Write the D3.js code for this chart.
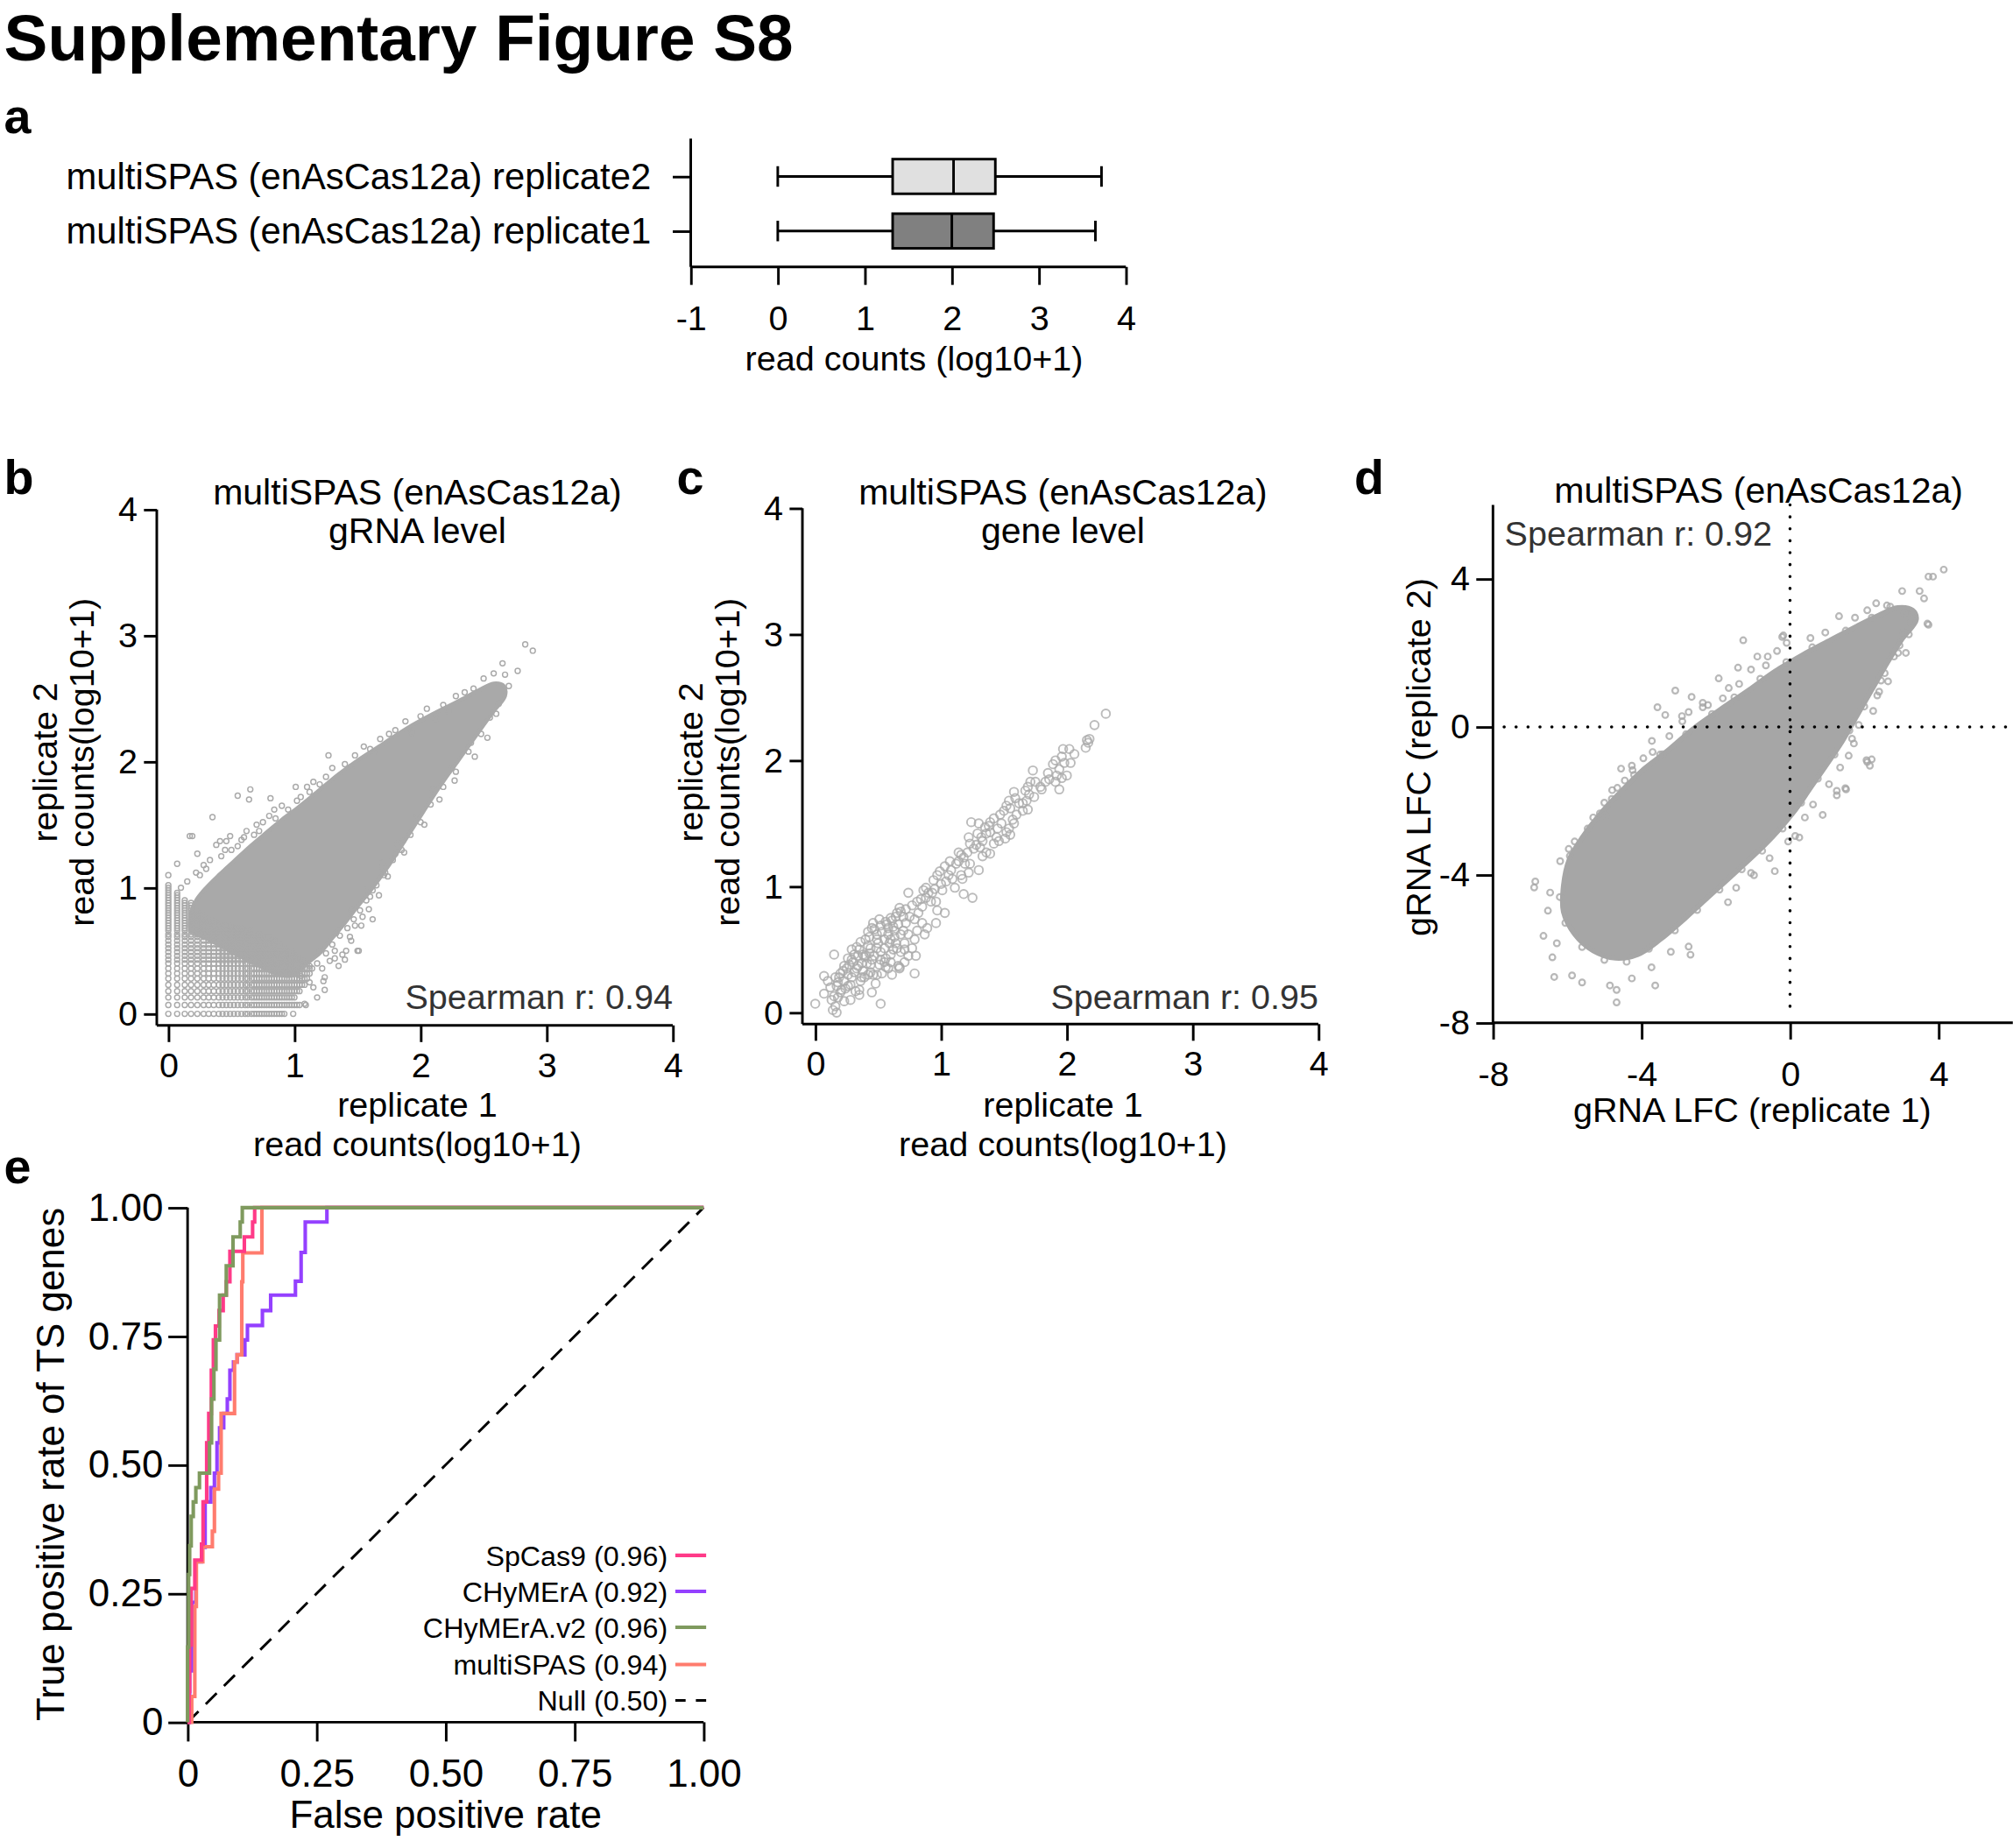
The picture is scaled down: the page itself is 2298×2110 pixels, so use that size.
<!DOCTYPE html>
<html>
<head>
<meta charset="utf-8">
<script src="https://d3js.org/d3.v7.min.js"></script>
<style>
  body { margin: 0; background: #fff; }
  svg text { font-family: "Liberation Sans", Arial, Helvetica, sans-serif; }
</style>
</head>
<body>
<div id="fig"></div>
<script>
// ---- values ----

// a: boxplots of read counts (log10+1)
var boxLabels = ["multiSPAS (enAsCas12a) replicate2", "multiSPAS (enAsCas12a) replicate1"];
var boxMin = [0, 0];
var boxQ1 = [1.32, 1.32];
var boxMedian = [2.02, 2.00];
var boxQ3 = [2.50, 2.48];
var boxMax = [3.72, 3.65];
var boxTicks = [-1, 0, 1, 2, 3, 4];

// b: gRNA level read counts
var countTicks = [0, 1, 2, 3, 4];
// discrete count levels seen in the lower-left grid, and how far right each row reaches
var gridLevelsB = [0, 0.07, 0.13, 0.18, 0.23, 0.28, 0.32, 0.36, 0.40, 0.43, 0.46, 0.49, 0.52, 0.55,
  0.58, 0.61, 0.63, 0.66, 0.68, 0.70, 0.72, 0.74, 0.76, 0.78, 0.80, 0.82, 0.84, 0.86, 0.88, 0.90,
  0.92, 0.94, 0.96, 0.98, 1.00, 1.02, 1.04, 1.06, 1.08, 1.10, 1.12, 1.14];
var gridRowEndB = [0.93, 1.03, 1.00, 1.05, 1.08, 1.10, 1.12, 1.14, 1.10, 1.06, 1.02, 0.98, 0.94, 0.90,
  0.84, 0.80, 0.72, 0.66, 0.58, 0.50, 0.42, 0.36, 0.30, 0.28, 0.26, 0.24, 0.22, 0.20, 0.18, 0.14,
  0.10, 0.07, 0.07, 0, 0, 0];
// outline of the solid part of the cloud
var gRnaCloud = [[0.18,0.66],[0.18,0.80],[0.22,0.90],[0.30,1.00],[0.40,1.10],[0.52,1.21],[0.65,1.33],
  [0.78,1.44],[0.90,1.54],[1.02,1.63],[1.18,1.76],[1.35,1.90],[1.50,2.01],[1.70,2.14],[1.90,2.27],
  [2.10,2.38],[2.30,2.48],[2.45,2.56],[2.58,2.62],[2.66,2.60],[2.67,2.52],[2.58,2.40],[2.45,2.22],
  [2.30,2.01],[2.15,1.80],[2.02,1.60],[1.88,1.38],[1.75,1.18],[1.62,1.00],[1.50,0.85],[1.40,0.72],
  [1.30,0.60],[1.20,0.48],[1.10,0.40],[1.03,0.33],[0.95,0.30],[0.85,0.32],[0.72,0.38],[0.58,0.45],
  [0.45,0.52],[0.30,0.60]];
var gRnaOutliers = [[2.83,2.93],[2.89,2.88],[2.77,2.72],[2.65,2.78],[2.67,2.69],[2.62,2.46],[2.70,2.60],
  [0.65,1.78],[0.64,1.70],[0.55,1.73],[0.81,1.71],[0.35,1.56],[0.17,1.41],[0.19,1.41],[0.23,1.27],
  [0.07,1.19],[0,1.10],[0.38,1.34],[0.41,1.37],[0.46,1.37],[0.49,1.41],[0.55,1.33],[0.72,1.45],
  [0.80,1.57],[0.84,1.62],[1.01,1.80],[1.02,1.69],[1.15,1.84],[1.27,2.05],[1.45,1.96],[1.64,2.08],
  [1.93,2.23],[2.12,2.34],[2.22,2.40],[1.50,0.50],[1.62,0.75],[1.60,0.93],[1.53,0.70],[1.41,0.50],
  [1.32,0.44],[1.24,0.29],[1.22,0.36],[1.15,0.21],[1.08,0.08],[0.99,0],[1.74,1.09],[1.87,1.28],
  [2.03,1.50],[2.15,1.70],[2.27,1.85],[2.43,2.04],[2.53,2.19],[1.51,0.50],[1.44,0.61],[1.35,0.38],
  [1.40,0.43],[1.24,0.19],[1.18,0.13],[1.23,0.26],[1.09,0.07],[1.04,0.07],[1.59,0.83],[1.67,0.94],
  [1.69,1.16],[1.80,1.27],[1.86,1.37],[1.32,0.50],[1.28,0.42],[1.38,0.47],[1.45,0.58],[1.48,0.70],
  [1.54,0.77],[1.62,0.98],[1.71,1.10],[0.25,1.10],[0.30,1.15],[0.50,1.30],[0.60,1.40],[0.70,1.50],
  [0.90,1.65],[1.10,1.80],[1.30,1.95],[1.55,2.12],[1.75,2.22],[2.00,2.36],[2.35,2.55],[2.50,2.66],
  [2.58,2.70],[2.55,2.35],[2.40,2.15],[2.25,1.95],[2.10,1.78],[1.95,1.55],[1.82,1.35],[1.70,1.20],
  [1.58,1.00],[1.45,0.82],[1.33,0.64],[1.20,0.50],[1.12,0.38],[0.10,1.00],[0.15,1.05],[0.22,1.12],
  [0.28,1.18],[0.33,1.22],[0.42,1.25],[0.45,1.30],[0.58,1.38],[0.62,1.45],[0.68,1.42],[0.75,1.52],
  [0.85,1.55],[0.95,1.62],[1.05,1.72],[1.12,1.76],[1.20,1.82],[1.25,1.88],[1.40,1.98],[1.48,2.05],
  [1.60,2.10],[1.68,2.18],[1.80,2.25],[1.88,2.32],[2.05,2.42],[2.18,2.45],[2.28,2.52],[2.42,2.58],
  [1.05,0.30],[1.12,0.25],[1.18,0.40],[1.25,0.48],[1.30,0.55],[1.36,0.62],[1.42,0.68],[1.47,0.75],
  [1.52,0.82],[1.57,0.90],[1.65,1.02],[1.72,1.12],[1.78,1.22],[1.85,1.30],[1.92,1.42],[2.00,1.52],
  [2.08,1.66],[2.18,1.80],[2.28,1.92],[2.38,2.08],[2.48,2.22],[2.60,2.38]];

// c: gene level read counts
var genePoints = [[2.31,2.37],[2.22,2.28],[2.16,2.16],[2.17,2.14],[2.15,2.10],[2.18,2.17],[2.02,2.09],
  [1.97,2.09],[1.96,2.03],[2.03,1.98],[1.98,1.98],[1.91,2.00],[1.89,1.97],[1.94,1.93],[2.00,1.88],
  [1.96,1.86],[1.94,1.77],[1.91,1.83],[1.86,1.85],[1.83,1.83],[1.79,1.79],[1.80,1.77],[1.73,1.92],
  [1.75,1.83],[1.71,1.83],[1.69,1.79],[1.67,1.76],[1.65,1.66],[1.68,1.68],[1.74,1.71],[1.58,1.75],
  [1.59,1.70],[1.54,1.68],[1.52,1.64],[1.55,1.62],[1.50,1.60],[1.47,1.57],[1.60,1.57],[1.65,1.60],
  [1.69,1.61],[1.57,1.53],[1.58,1.50],[1.54,1.46],[1.52,1.43],[1.51,1.38],[1.55,1.41],[1.42,1.54],
  [1.39,1.51],[1.38,1.48],[1.45,1.46],[1.44,1.39],[1.46,1.36],[1.42,1.34],[1.39,1.43],[1.36,1.42],
  [1.33,1.36],[1.31,1.31],[1.36,1.27],[1.33,1.24],[1.39,1.26],[1.30,1.13],[1.32,1.39],[1.28,1.33],
  [1.24,1.51],[1.30,1.50],[1.22,1.39],[1.23,1.34],[1.21,1.27],[1.18,1.23],[1.19,1.18],[1.23,1.18],
  [1.22,1.11],[1.14,1.27],[1.14,1.20],[1.16,1.09],[1.17,1.06],[1.07,1.20],[1.08,1.13],[1.06,1.09],
  [1.04,1.04],[0.97,1.09],[1.00,1.02],[1.01,0.97],[0.95,0.98],[0.93,0.95],[0.88,0.99],[0.86,0.97],
  [0.88,0.91],[0.92,0.88],[0.96,0.88],[0.97,0.81],[1.18,0.94],[1.25,0.91],[1.09,1.06],[1.11,0.99],
  [1.03,0.79],[0.96,0.71],[0.74,0.95],[0.81,0.88],[0.85,0.84],[0.82,0.79],[0.79,0.74],[0.75,0.76],
  [0.72,0.71],[0.67,0.83],[0.65,0.79],[0.60,0.75],[0.56,0.72],[0.51,0.74],[0.46,0.71],[0.45,0.67],
  [0.49,0.62],[0.53,0.64],[0.58,0.67],[0.63,0.65],[0.70,0.65],[0.74,0.62],[0.81,0.65],[0.87,0.62],
  [0.89,0.67],[0.85,0.71],[0.79,0.58],[0.77,0.51],[0.80,0.45],[0.74,0.45],[0.71,0.40],[0.67,0.36],
  [0.65,0.51],[0.60,0.46],[0.56,0.43],[0.51,0.38],[0.49,0.51],[0.43,0.60],[0.42,0.53],[0.38,0.46],
  [0.37,0.39],[0.35,0.50],[0.31,0.46],[0.29,0.50],[0.26,0.43],[0.23,0.37],[0.20,0.31],[0.16,0.28],
  [0.15,0.46],[0.07,0.29],[0.07,0.15],[0.00,0.07],[0.17,0.21],[0.20,0.16],[0.15,0.13],[0.16,0.05],
  [0.17,0.00],[0.14,0.02],[0.26,0.21],[0.28,0.10],[0.32,0.17],[0.36,0.25],[0.39,0.28],[0.44,0.32],
  [0.48,0.23],[0.45,0.16],[0.42,0.30],[0.49,0.30],[0.53,0.31],[0.58,0.35],[0.61,0.30],[0.66,0.37],
  [0.67,0.35],[0.79,0.31],[0.52,0.07],[0.35,0.18],[0.29,0.28],[0.31,0.32],[0.41,0.39],[0.45,0.42],
  [0.55,0.51],[0.59,0.55],[0.63,0.60],[0.71,0.55],[0.49,0.58],[0.44,0.51],[0.39,0.44],[0.34,0.37],
  [0.26,0.30],[0.23,0.25],[0.21,0.18],[0.35,0.14],[0.23,0.09],[0.19,0.28],[0.30,0.40],[0.33,0.35],
  [0.38,0.33],[0.40,0.45],[0.43,0.47],[0.47,0.45],[0.50,0.55],[0.52,0.48],[0.55,0.58],[0.58,0.62],
  [0.62,0.68],[0.66,0.70],[0.68,0.62],[0.70,0.76],[0.25,0.35],[0.28,0.22],[0.37,0.28],[0.44,0.38],
  [0.46,0.30],[0.34,0.45],[0.55,0.40],[0.62,0.50],[0.24,0.19],[0.18,0.12],[0.33,0.52],[0.36,0.56],
  [0.40,0.58],[0.42,0.64],[0.47,0.66],[0.52,0.69],[0.57,0.70],[0.61,0.73],[0.64,0.76],[0.68,0.80],
  [0.72,0.82],[0.77,0.85],[0.60,0.58],[0.64,0.55],[0.68,0.48],[0.71,0.50],[0.52,0.42],[0.56,0.36],
  [0.60,0.40],[0.27,0.38],[0.29,0.42],[0.22,0.33],[0.18,0.24],[0.12,0.20],[0.10,0.25],[0.13,0.10],
  [0.84,0.90],[0.90,0.95],[0.94,1.05],[0.99,1.12],[1.03,1.16],[1.12,1.18],[1.16,1.25],[1.26,1.30],
  [1.29,1.42],[1.35,1.47],[1.48,1.50],[1.62,1.66],[1.70,1.73],[1.85,1.90],[1.92,1.88],[2.06,2.05]];

// d: gRNA log fold changes
var lfcTicks = [-8, -4, 0, 4];
var lfcCloud = [[-6.10,-4.30],[-5.95,-3.60],[-5.60,-3.00],[-5.15,-2.40],[-4.60,-1.80],[-4.00,-1.20],
  [-3.30,-0.65],[-2.60,-0.05],[-1.90,0.45],[-1.10,1.00],[-0.40,1.50],[0.35,1.95],[1.10,2.35],
  [1.80,2.72],[2.40,3.02],[2.90,3.22],[3.30,3.15],[3.40,2.90],[3.00,2.35],[2.60,1.70],[2.20,1.00],
  [1.80,0.30],[1.40,-0.40],[1.00,-1.00],[0.55,-1.65],[0.10,-2.30],[-0.45,-2.95],[-1.00,-3.50],
  [-1.60,-4.05],[-2.20,-4.60],[-2.80,-5.15],[-3.50,-5.75],[-4.10,-6.15],[-4.70,-6.25],[-5.30,-6.05],
  [-5.80,-5.60],[-6.10,-5.00]];
var lfcOutliers = [[-6.86,-4.18],[-6.89,-4.34],[-6.64,-5.65],[-6.35,-6.76],[-5.87,-6.72],[-5.60,-6.91],
  [-6.40,-6.23],[-6.28,-5.85],[-6.52,-4.97],[-6.46,-4.48],[-4.85,-6.99],[-4.67,-7.11],[-4.67,-7.45],
  [-4.26,-6.80],[-3.63,-6.99],[-3.73,-6.50],[-2.68,-6.16],[-2.73,-5.94],[-3.21,-6.08],[-0.41,-3.90],
  [-0.97,-4.01],[-1.67,-4.74],[0.25,-2.99],[0.14,-2.95],[0.88,-2.38],[1.26,-1.85],[1.51,-1.69],
  [2.06,-0.90],[2.15,-1.05],[1.58,-0.78],[1.67,-0.32],[2.24,0.43],[3.70,2.79],[3.12,2.00],[2.91,2.00],
  [3.34,2.99],[2.64,1.23],[2.35,0.85],[-1.26,2.34],[-1.92,1.31],[-3.09,0.98],[-2.65,0.81],[-3.57,0.53],
  [-3.36,0.32],[-2.91,0.29],[-2.73,0.40],[-3.72,-0.38],[-3.70,-0.68],[-3.43,-0.74],[-4.55,-1.13],
  [-4.26,-1.05],[-4.24,-1.17],[-4.79,-1.71],[-4.65,-1.65],[-5.12,-2.34],[-4.97,-2.40],[-5.96,-3.30],
  [-5.93,-3.49],[-6.19,-3.63],[-0.88,1.90],[-0.65,1.66],[-1.37,1.16],[-1.40,1.60],[1.32,2.99],
  [-0.18,2.47],[-0.09,2.27],[-2.21,0.59],[-2.35,0.53],[-1.81,0.77],[4.14,4.25],[3.85,4.06],[3.73,4.06],
  [3.02,3.67],[3.49,3.67],[3.61,3.47],[3.73,2.76],[-0.21,2.43],[2.32,3.34],[2.08,3.15],[2.61,3.28],
  [3.08,3.08],[3.26,2.82],[2.20,-0.88],[2.08,-0.95],[1.26,-1.73],[1.49,-1.66],[-5.80,-3.10],
  [-5.30,-2.45],[-4.80,-1.95],[-4.20,-1.30],[-3.50,-0.75],[-2.80,-0.20],[-2.10,0.35],[-1.50,0.80],
  [-0.80,1.30],[-0.10,1.75],[0.60,2.15],[1.50,2.60],[2.20,2.95],[2.70,3.25],[3.20,2.50],[2.80,1.90],
  [2.45,1.25],[2.00,0.55],[1.60,-0.10],[1.20,-0.75],[0.75,-1.40],[0.30,-2.05],[-0.20,-2.75],
  [-0.75,-3.35],[-1.30,-3.85],[-1.90,-4.40],[-2.50,-4.95],[-3.10,-5.50],[-3.80,-6.00],[-4.40,-6.35],
  [-5.00,-6.30],[-5.60,-5.95],[-6.05,-5.30],[-6.20,-4.60],[1.85,0.05],[1.72,-0.45],[1.35,-1.10],
  [1.05,-1.55],[0.62,-2.10],[0.40,-2.45],[-0.05,-3.10],[-0.55,-3.55],[-1.05,-3.95],[-1.45,-4.35],
  [2.40,0.95],[2.55,1.45],[2.95,2.20],[3.05,2.55],[-0.35,2.05],[-0.60,1.90],[-1.05,1.55],[-1.65,1.05],
  [-2.35,0.65],[-2.90,0.15],[-3.25,-0.25],[-3.95,-0.85],[-4.45,-1.45],[-5.00,-2.05],[-5.45,-2.75],
  [0.55,2.40],[0.95,2.55],[1.75,2.95]];

// e: ROC curves, [false positive rate, true positive rate] at each step
var rocNames = ["SpCas9", "CHyMErA", "CHyMErA.v2", "multiSPAS", "Null"];
var rocAuc = [0.96, 0.92, 0.96, 0.94, 0.50];
var rocSpCas9 = [[0,0],[0.003,0.06],[0.004,0.15],[0.007,0.26],[0.014,0.315],[0.027,0.346],[0.030,0.428],
  [0.037,0.543],[0.041,0.60],[0.046,0.684],[0.050,0.743],[0.054,0.77],[0.061,0.80],[0.069,0.83],
  [0.075,0.856],[0.082,0.915],[0.110,0.943],[0.126,0.972],[0.130,1],[1,1]];
var rocChymera = [[0,0],[0.004,0.10],[0.0085,0.233],[0.016,0.312],[0.027,0.34],[0.034,0.428],
  [0.045,0.456],[0.052,0.484],[0.057,0.543],[0.062,0.572],[0.070,0.60],[0.077,0.628],[0.082,0.684],
  [0.089,0.70],[0.096,0.714],[0.111,0.743],[0.116,0.771],[0.145,0.80],[0.161,0.83],[0.209,0.857],
  [0.220,0.913],[0.228,0.972],[0.270,1],[1,1]];
var rocChymeraV2 = [[0,0],[0,0.146],[0.002,0.287],[0.004,0.343],[0.007,0.40],[0.011,0.428],
  [0.016,0.456],[0.023,0.484],[0.0425,0.543],[0.0465,0.628],[0.051,0.686],[0.055,0.743],[0.062,0.83],
  [0.075,0.887],[0.088,0.943],[0.102,0.972],[0.106,1],[1,1]];
var rocMultiSpas = [[0,0],[0.008,0.05],[0.014,0.225],[0.017,0.312],[0.0295,0.341],[0.048,0.371],
  [0.052,0.453],[0.060,0.484],[0.065,0.60],[0.091,0.70],[0.096,0.714],[0.105,0.856],[0.107,0.912],
  [0.144,1],[1,1]];
var rocNull = [[0,0],[1,1]];
var rocTicks = [0, 0.25, 0.5, 0.75, 1];

// ---- drawing ----
var FONT = "'Liberation Sans', Arial, Helvetica, sans-serif";
var GREY = "#a9a9a9";
var rocColors = ["#ff3a88", "#9440ff", "#7f9a5e", "#ff7c6e", "#000"];

var svg = d3.select("#fig").append("svg")
    .attr("width", 2298)
    .attr("height", 2110)
    .attr("viewBox", "0 0 1568 1440");

function styleAxis(g, size) {
  g.select(".domain").remove();
  g.selectAll(".tick line").attr("stroke", "#000").attr("stroke-width", 2);
  g.selectAll(".tick text").attr("font-size", size).attr("fill", "#000").attr("font-family", FONT);
}

function hline(g, x1, x2, y) {
  g.append("line").attr("x1", x1).attr("x2", x2).attr("y1", y).attr("y2", y)
    .attr("stroke", "#000").attr("stroke-width", 2);
}
function vline(g, x, y1, y2) {
  g.append("line").attr("x1", x).attr("x2", x).attr("y1", y1).attr("y2", y2)
    .attr("stroke", "#000").attr("stroke-width", 2);
}
function label(g, txt, x, y, opts) {
  opts = opts || {};
  var t = g.append("text").attr("x", x).attr("y", y)
    .attr("font-size", opts.size || 27)
    .attr("text-anchor", opts.anchor || "middle")
    .attr("fill", opts.fill || "#000")
    .text(txt);
  if (opts.bold) t.attr("font-weight", "bold");
  if (opts.rotate) t.attr("x", null).attr("y", null)
    .attr("transform", "translate(" + x + "," + y + ") rotate(-90)");
  return t;
}
var intFmt = function(d) { return String(d); };

label(svg, "Supplementary Figure S8", 3, 47, {size: 51, bold: true, anchor: "start"});

// --- a ---
var gA = svg.append("g");
label(gA, "a", 3, 104, {size: 38, bold: true, anchor: "start"});
var xA = d3.scaleLinear().domain([-1, 4]).range([538, 877]);
var yA = d3.scalePoint().domain(boxLabels).range([137.5, 180]);

gA.append("g").attr("transform", "translate(0,208)")
  .call(d3.axisBottom(xA).tickValues(boxTicks).tickSize(14).tickPadding(16).tickFormat(intFmt))
  .call(styleAxis, 27);
gA.append("g").attr("transform", "translate(538,0)")
  .call(d3.axisLeft(yA).tickSize(14).tickPadding(17))
  .call(styleAxis, 28.5);
hline(gA, xA(-1), xA(4), 208);
vline(gA, 538, 108, 208);
label(gA, "read counts (log10+1)", 712, 289);

var boxG = gA.selectAll("g.box").data(d3.range(boxLabels.length)).enter().append("g").attr("class", "box");
boxG.each(function(i) {
  var g = d3.select(this), cy = yA(boxLabels[i]);
  g.append("line").attr("x1", xA(boxMin[i])).attr("x2", xA(boxQ1[i])).attr("y1", cy).attr("y2", cy);
  g.append("line").attr("x1", xA(boxQ3[i])).attr("x2", xA(boxMax[i])).attr("y1", cy).attr("y2", cy);
  g.append("line").attr("x1", xA(boxMin[i])).attr("x2", xA(boxMin[i])).attr("y1", cy - 8).attr("y2", cy + 8);
  g.append("line").attr("x1", xA(boxMax[i])).attr("x2", xA(boxMax[i])).attr("y1", cy - 8).attr("y2", cy + 8);
  g.append("rect").attr("x", xA(boxQ1[i])).attr("y", cy - 13.5)
    .attr("width", xA(boxQ3[i]) - xA(boxQ1[i])).attr("height", 27)
    .attr("fill", i === 0 ? "#e0e0e0" : "#808080");
  g.append("line").attr("x1", xA(boxMedian[i])).attr("x2", xA(boxMedian[i])).attr("y1", cy - 13.5).attr("y2", cy + 13.5);
  g.selectAll("line, rect").attr("stroke", "#000").attr("stroke-width", 2);
});

// --- shared frame for b and c ---
function countFrame(g, xs, ys, axisX, axisY, title2, corr) {
  g.append("g").attr("transform", "translate(0," + axisY + ")")
    .call(d3.axisBottom(xs).tickValues(countTicks).tickSize(13).tickPadding(8).tickFormat(intFmt))
    .call(styleAxis, 27);
  g.append("g").attr("transform", "translate(" + axisX + ",0)")
    .call(d3.axisLeft(ys).tickValues(countTicks).tickSize(10).tickPadding(5).tickFormat(intFmt))
    .call(styleAxis, 27);
  hline(g, axisX, xs(4), axisY);
  vline(g, axisX, ys(4), axisY);
  var cx = (axisX + xs(4)) / 2 + 2;
  label(g, "multiSPAS (enAsCas12a)", cx, 393, {size: 28});
  label(g, title2, cx, 423, {size: 28});
  label(g, "replicate 1", cx, 870);
  label(g, "read counts(log10+1)", cx, 901);
  label(g, "replicate 2", axisX - 78, 594, {rotate: true});
  label(g, "read counts(log10+1)", axisX - 49, 594, {rotate: true});
  label(g, "Spearman r: " + corr, xs(4), 786, {anchor: "end", fill: "#333"});
}

// --- b ---
var gB = svg.append("g");
label(gB, "b", 3, 385, {size: 38, bold: true, anchor: "start"});
var xB = d3.scaleLinear().domain([0, 4]).range([131, 524]);
var yB = d3.scaleLinear().domain([0, 4]).range([790, 397]);

gB.append("path")
  .datum(gRnaCloud)
  .attr("d", d3.line().x(function(d) { return xB(d[0]); }).y(function(d) { return yB(d[1]); })
    .curve(d3.curveCatmullRomClosed.alpha(0.5)))
  .attr("fill", GREY).attr("stroke", GREY).attr("stroke-width", 3).attr("stroke-linejoin", "round");

var gridPts = [];
gridRowEndB.forEach(function(end, r) {
  gridLevelsB.forEach(function(lx) {
    if (lx <= end + 1e-9) gridPts.push([lx, gridLevelsB[r]]);
  });
});
gB.append("g").selectAll("circle").data(gridPts.concat(gRnaOutliers)).enter().append("circle")
  .attr("cx", function(d) { return xB(d[0]); })
  .attr("cy", function(d) { return yB(d[1]); })
  .attr("r", 2)
  .attr("fill", "none").attr("stroke", GREY).attr("stroke-width", 1);
countFrame(gB, xB, yB, 122, 799, "gRNA level", "0.94");

// --- c ---
var gC = svg.append("g");
label(gC, "c", 527, 385, {size: 38, bold: true, anchor: "start"});
var xC = d3.scaleLinear().domain([0, 4]).range([635, 1027]);
var yC = d3.scaleLinear().domain([0, 4]).range([789, 396]);
gC.append("g").selectAll("circle").data(genePoints).enter().append("circle")
  .attr("cx", function(d) { return xC(d[0]); })
  .attr("cy", function(d) { return yC(d[1]); })
  .attr("r", 3.3)
  .attr("fill", "none").attr("stroke", "#aaaaaa").attr("stroke-opacity", 0.8).attr("stroke-width", 1.3);
countFrame(gC, xC, yC, 625, 798, "gene level", "0.95");

// --- d ---
var gD = svg.append("g");
label(gD, "d", 1055, 385, {size: 38, bold: true, anchor: "start"});
var xD = d3.scaleLinear().domain([-8, 6]).range([1163, 1568]);
var yD = d3.scaleLinear().domain([-8, 6]).range([797, 393.4]);

gD.append("path")
  .datum(lfcCloud)
  .attr("d", d3.line().x(function(d) { return xD(d[0]); }).y(function(d) { return yD(d[1]); })
    .curve(d3.curveCatmullRomClosed.alpha(0.5)))
  .attr("fill", "#a6a6a6").attr("stroke", "#a6a6a6").attr("stroke-width", 4).attr("stroke-linejoin", "round");
gD.append("g").selectAll("circle").data(lfcOutliers).enter().append("circle")
  .attr("cx", function(d) { return xD(d[0]); })
  .attr("cy", function(d) { return yD(d[1]); })
  .attr("r", 2.3)
  .attr("fill", "none").attr("stroke", "#a6a6a6").attr("stroke-opacity", 0.8).attr("stroke-width", 1.5);

// dotted reference lines at 0
gD.append("line").attr("x1", xD(0)).attr("x2", xD(0)).attr("y1", yD(6)).attr("y2", yD(-7.8))
  .attr("stroke", "#000").attr("stroke-width", 2.4).attr("stroke-linecap", "round").attr("stroke-dasharray", "0.1 9.2");
gD.append("line").attr("x1", xD(-7.7)).attr("x2", xD(6)).attr("y1", yD(0)).attr("y2", yD(0))
  .attr("stroke", "#000").attr("stroke-width", 2.4).attr("stroke-linecap", "round").attr("stroke-dasharray", "0.1 9.2");

gD.append("g").attr("transform", "translate(0,797)")
  .call(d3.axisBottom(xD).tickValues(lfcTicks).tickSize(13).tickPadding(17).tickFormat(intFmt))
  .call(styleAxis, 27);
gD.append("g").attr("transform", "translate(1163,0)")
  .call(d3.axisLeft(yD).tickValues(lfcTicks).tickSize(13).tickPadding(5).tickFormat(intFmt))
  .call(styleAxis, 27);
hline(gD, xD(-8), xD(6), 797);
vline(gD, 1163, yD(6), 797);
label(gD, "multiSPAS (enAsCas12a)", 1370, 392, {size: 28});
label(gD, "Spearman r: 0.92", 1172, 425, {anchor: "start", fill: "#333"});
label(gD, "gRNA LFC (replicate 1)", 1365, 874);
label(gD, "gRNA LFC (replicate 2)", 1114, 590, {rotate: true});

// --- e ---
var gE = svg.append("g");
label(gE, "e", 3, 922, {size: 38, bold: true, anchor: "start"});
var xE = d3.scaleLinear().domain([0, 1]).range([146, 548]);
var yE = d3.scaleLinear().domain([0, 1]).range([1342, 941]);
var fmtRoc = function(d) { return d === 0 ? "0" : d.toFixed(2); };

gE.append("g").attr("transform", "translate(0,1342)")
  .call(d3.axisBottom(xE).tickValues(rocTicks).tickSize(15).tickPadding(14).tickFormat(fmtRoc))
  .call(styleAxis, 30);
gE.append("g").attr("transform", "translate(146,0)")
  .call(d3.axisLeft(yE).tickValues(rocTicks).tickSize(15).tickPadding(4).tickFormat(fmtRoc))
  .call(styleAxis, 30);
hline(gE, xE(0), xE(1), 1342);
vline(gE, 146, yE(1), yE(0));
label(gE, "False positive rate", 347, 1424, {size: 30});
label(gE, "True positive rate of TS genes", 50, 1141, {size: 30, rotate: true});

var rocLine = d3.line().x(function(d) { return xE(d[0]); }).y(function(d) { return yE(d[1]); });
var rocSeries = [rocSpCas9, rocChymera, rocChymeraV2, rocMultiSpas, rocNull];
gE.append("path").datum(rocNull).attr("d", rocLine)
  .attr("fill", "none").attr("stroke", "#000").attr("stroke-width", 2).attr("stroke-dasharray", "12 8");
[1, 3, 0, 2].forEach(function(i) {
  gE.append("path").datum(rocSeries[i])
    .attr("d", rocLine.curve(d3.curveStepAfter))
    .attr("fill", "none").attr("stroke", rocColors[i]).attr("stroke-width", 2.8);
});

var legY = [1212, 1240, 1268, 1297, 1325];
rocNames.forEach(function(name, i) {
  label(gE, name + " (" + rocAuc[i].toFixed(2) + ")", 520, legY[i] + 8, {size: 22, anchor: "end"});
  var l = gE.append("line").attr("x1", 526).attr("x2", 550).attr("y1", legY[i]).attr("y2", legY[i])
    .attr("stroke", rocColors[i]).attr("stroke-width", i === 4 ? 2 : 2.8);
  if (i === 4) l.attr("stroke-dasharray", "8 8");
});
</script>
</body>
</html>
